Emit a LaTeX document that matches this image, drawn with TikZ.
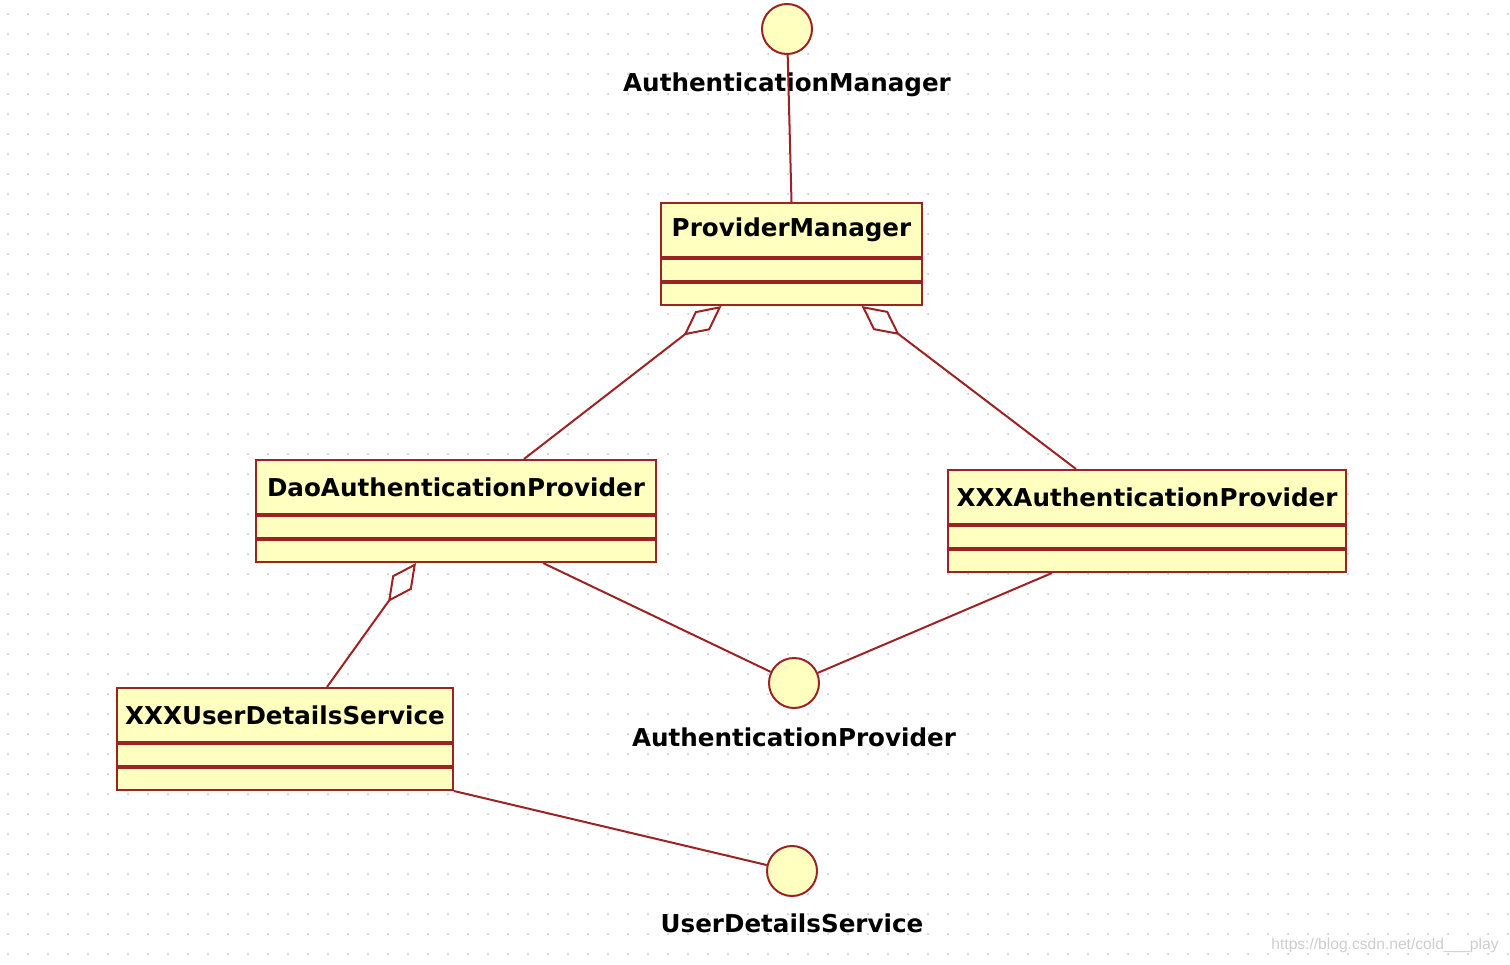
\documentclass[tikz,border=0pt]{standalone}
\usepackage{fontspec}
\setmainfont{DejaVu Sans}
\newfontfamily\wmfont{Liberation Sans}
\usetikzlibrary{positioning}
\usetikzlibrary{arrows.meta}
\definecolor{umlline}{RGB}{155,35,35}
\definecolor{umlfill}{RGB}{255,255,192}
\definecolor{griddot}{RGB}{190,190,190}
\definecolor{wmgray}{RGB}{205,205,205}
\tikzset{
classhead/.style={
draw=umlline,
fill=umlfill,
line width=1pt,
minimum height=27pt,
inner sep=0pt,
font=\fontsize{12.3}{14}\selectfont\bfseries},
classpart/.style={
draw=umlline,
fill=umlfill,
line width=1pt,
minimum height=11pt,
inner sep=0pt},
iface/.style={
circle,
draw=umlline,
fill=umlfill,
line width=1pt,
minimum size=25pt,
inner sep=0pt},
ifacename/.style={
inner sep=0pt,
font=\fontsize{12.3}{14}\selectfont\bfseries},
every edge/.style={
draw=umlline,
line width=1pt},
aggr/.style={
{Diamond[open,length=24pt,width=12pt]}-}}

\begin{document}
\begin{tikzpicture}[x=0.5pt, y=-0.5pt]
\useasboundingbox (0,0) rectangle (1510,964);
% dotted grid
\foreach \i in {0,...,75}
  \foreach \j in {0,...,47}
    \fill[griddot] (8+20*\i,14+20*\j) circle (0.5pt);

% classes
\node[classhead, minimum width=130.5pt] (pm) at (791.5,230) {ProviderManager};
\node[classpart, minimum width=130.5pt, below=0pt of pm] (pm1) {};
\node[classpart, minimum width=130.5pt, below=0pt of pm1] (pm2) {};

\node[classhead, minimum width=200pt] (dao) at (456,487) {DaoAuthenticationProvider};
\node[classpart, minimum width=200pt, below=0pt of dao] (dao1) {};
\node[classpart, minimum width=200pt, below=0pt of dao1] (dao2) {};

\node[classhead, minimum width=199pt] (xa) at (1147,497) {XXXAuthenticationProvider};
\node[classpart, minimum width=199pt, below=0pt of xa] (xa1) {};
\node[classpart, minimum width=199pt, below=0pt of xa1] (xa2) {};

\node[classhead, minimum width=168pt] (uds) at (285,715) {XXXUserDetailsService};
\node[classpart, minimum width=168pt, below=0pt of uds] (uds1) {};
\node[classpart, minimum width=168pt, below=0pt of uds1] (uds2) {};

% interfaces
\node[iface] (am) at (787,29) {};
\node[ifacename, below=8.5pt of am] (amname) {AuthenticationManager};
\node[iface] (ap) at (794,683) {};
\node[ifacename, below=9pt of ap] (apname) {AuthenticationProvider};
\node[iface] (usvc) at (792,871) {};
\node[ifacename, below=8pt of usvc] (usvcname) {UserDetailsService};

\node[text=wmgray, font=\wmfont\fontsize{7.8}{9}\selectfont] (wm) at (1385,945) {https://blog.csdn.net/cold\_\_\_play};

% connectors
\draw (am) edge (pm.north);
\draw ([xshift=-35pt]pm2.south) edge[aggr] ([xshift=34pt]dao.north);
\draw ([xshift=35pt]pm2.south) edge[aggr] ([xshift=-35.5pt]xa.north);
\draw ([xshift=-20pt]dao2.south) edge[aggr] ([xshift=21pt]uds.north);
\draw ([xshift=43.5pt]dao2.south) edge (ap);
\draw ([xshift=-47.5pt]xa2.south) edge (ap);
\draw (uds2.south east) edge (usvc);
\end{tikzpicture}
\end{document}
